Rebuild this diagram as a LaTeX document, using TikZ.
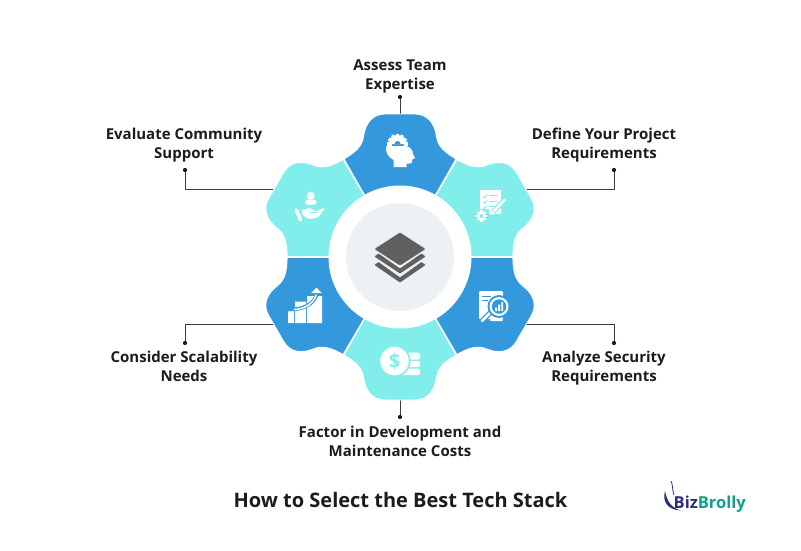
\documentclass[tikz,border=0pt]{standalone}
\usepackage{fontspec}
\setmainfont{Open Sans}
\usepackage{xcolor}
\usetikzlibrary{positioning}
\definecolor{segblue}{HTML}{3498DD}
\definecolor{segcyan}{HTML}{82EEEC}
\definecolor{hubgrey}{HTML}{ECF1F3}
\definecolor{stackgrey}{HTML}{606060}
\definecolor{inkdark}{HTML}{1C1C1C}
\definecolor{logonavy}{HTML}{2A2F7A}
\definecolor{logoteal}{HTML}{12A08C}

\begin{document}
\begin{tikzpicture}[
x=1pt, y=-1pt,
lbl/.style = {font=\bfseries\fontsize{15}{19}\selectfont, align=center, text=inkdark, inner sep=0pt},
leaddot/.style = {circle, fill=inkdark, inner sep=0pt, minimum size=4.2pt},
leader/.style = {draw=inkdark!85, line width=0.8pt},
seg/.style = {line width=0.9pt, draw=white},
ink/.style = {fill=white, draw=none}]
\useasboundingbox (0,0) rectangle (801,550);
\fill[white] (0,0) rectangle (801,550);

\node[leaddot] (dot1) at (400,97) {};
\node[leaddot] (dot2) at (614,170) {};
\node[leaddot] (dot3) at (614,343) {};
\node[leaddot] (dot4) at (400,417) {};
\node[leaddot] (dot5) at (185,343) {};
\node[leaddot] (dot6) at (185,170) {};
\coordinate (lobe1) at (400,116);
\coordinate (lobe2) at (524,189);
\coordinate (lobe3) at (524,324);
\coordinate (lobe4) at (400,398);
\coordinate (lobe5) at (276,324);
\coordinate (lobe6) at (276,189);
\draw[leader] (dot1) -- (lobe1);
\draw[leader] (dot2) |- (lobe2);
\draw[leader] (dot3) |- (lobe3);
\draw[leader] (dot4) -- (lobe4);
\draw[leader] (dot5) |- (lobe5);
\draw[leader] (dot6) |- (lobe6);

\foreach \ang/\col in {0/segblue,-60/segcyan,-120/segblue,-180/segcyan,-240/segblue,-300/segcyan}
  \draw[seg, fill=\col, shift={(400,257)}, rotate=\ang] (0,0) -- (-56,-98)
    .. controls (-46,-104) and (-38,-110) .. (-36.5,-120)
    .. controls (-35,-133) and (-28,-143) .. (-15,-143) -- (15,-143)
    .. controls (28,-143) and (35,-133) .. (36.5,-120)
    .. controls (38,-110) and (46,-104) .. (56,-98) -- cycle;

\node[circle, fill=white, minimum size=143pt, inner sep=0pt] (ring) at (400,257) {};
\node[circle, fill=hubgrey, minimum size=108pt, inner sep=0pt] (hub) at (400,257) {};

\fill[stackgrey, rounded corners=1pt] (400,232.5) -- (425.5,249) -- (400,265.5) -- (374.5,249) -- cycle;
\fill[stackgrey, rounded corners=0.8pt] (378.5,253.5) -- (400,268.5) -- (421.5,253.5) -- (425.5,256.5) -- (400,273.5) -- (374.5,256.5) -- cycle;
\fill[stackgrey, rounded corners=0.8pt] (378.5,262) -- (400,277.5) -- (421.5,262) -- (425.5,265) -- (400,282.5) -- (374.5,265) -- cycle;

% head
\foreach \t in {-90,-60,...,90}
  \fill[ink, shift={(397.5,144)}, rotate=\t] (-1.6,-10.2) rectangle (1.6,-6);
\fill[ink] (388.5,144) arc[start angle=180, end angle=360, radius=9] -- cycle;
\fill[segblue] (394.5,144) arc[start angle=180, end angle=360, radius=3] -- cycle;
\fill[ink] (386,146) -- (405.5,146)
  .. controls (410,146.5) and (413,150) .. (413,154) -- (415,158) -- (412,159.5)
  -- (412,162.5) .. controls (411,164) and (408,163.5) .. (406.5,163.5) -- (406.5,167) -- (393.5,167) -- (393.5,160)
  .. controls (388,157.5) and (385.5,152) .. (386,146) -- cycle;

% checklist
\fill[ink] (479.5,190) rectangle (500.5,214);
\fill[segcyan] (483,195.5) -- (484.5,197) -- (487,194) -- (487,195.5) -- (484.5,198.5) -- (483,197) -- cycle;
\fill[segcyan] (483,201) -- (484.5,202.5) -- (487,199.5) -- (487,201) -- (484.5,204) -- (483,202.5) -- cycle;
\fill[segcyan] (483,206.5) -- (484.5,208) -- (487,205) -- (487,206.5) -- (484.5,209.5) -- (483,208) -- cycle;
\draw[segcyan, line width=1pt] (489,195.5) -- (497,195.5) (489,201) -- (497,201) (489,206.5) -- (495,206.5);
\draw[segcyan, line width=5pt] (506,198.5) -- (493,212);
\draw[white, line width=2.6pt] (505,199.5) -- (494,211);
\fill[ink] (490.5,215) -- (492,210) -- (495.5,213.5) -- cycle;
\fill[segcyan] (474,209) rectangle (489,224);
\foreach \t in {0,45,...,315}
  \fill[ink, shift={(481.5,216)}, rotate=\t] (-1.2,-5.6) rectangle (1.2,-3);
\draw[white, line width=1.5pt] (481.5,216) circle[radius=2.9];

% report
\fill[ink, rounded corners=1pt] (479,291) rectangle (503,319);
\draw[segblue, line width=1.3pt] (482,296.5) -- (491,296.5) (482,300.5) -- (488,300.5);
\draw[segblue, line width=5pt] (492,311) -- (481,322);
\draw[white, line width=2.6pt, line cap=round] (491,312) -- (482,321);
\fill[segblue] (499,306.5) circle[radius=11.5];
\fill[ink] (499,306.5) circle[radius=9.5];
\fill[segblue] (499,306.5) circle[radius=7.2];
\fill[ink] (495,307.5) rectangle (496.8,311) (498.2,304.5) rectangle (500,311) (501.4,302) rectangle (503.2,311);
\fill[ink, rounded corners=0.8pt] (490,319) rectangle (503,321);

% dollar
\fill[ink, rounded corners=1.5pt] (402,352.5) rectangle (420,359.5) (402,361) rectangle (420,367) (402,368.5) rectangle (420,375);
\fill[segcyan] (394.5,361) circle[radius=16];
\node[circle, fill=white, minimum size=28.5pt, inner sep=0pt] (coin) at (394.5,361) {};
\node[font=\bfseries\fontsize{20}{20}\selectfont, text=segcyan, inner sep=0pt] (dollar) at (coin) {\$};

% chart
\fill[ink] (288,311) rectangle (294,323) (295.2,301.5) rectangle (306,323) (307,296) rectangle (322,323);
\draw[segblue, line width=3.6pt] (288,309.5) .. controls (303,310) and (315,304) .. (317,293);
\draw[white, line width=1.5pt] (294,309.5) .. controls (305,309) and (315,303) .. (316.5,293);
\fill[segblue] (309,294.5) -- (316.5,286) -- (323,294.5) -- cycle;
\fill[ink] (311,293) -- (316.5,287.5) -- (321.5,293) -- cycle;

% hand
\fill[ink] (310.7,195.7) circle[radius=3.9];
\fill[ink, rounded corners=1.8pt] (305,199.5) rectangle (316.5,204.5);
\draw[white, line width=3.6pt, line cap=round] (296.5,210) -- (300.5,220);
\fill[ink, rounded corners=1pt] (301.5,210) -- (310,208) -- (315.5,211.5) -- (325,207.5) -- (318.5,217) -- (310,219.3) -- (303,215.5) -- cycle;
\draw[segcyan, line width=0.7pt] (310,212.8) -- (317,212.8);

\node[lbl, above=1.5pt of dot1] (lab1) {Assess Team\\Expertise};
\node[lbl, above=5.5pt of dot2, xshift=-10pt] (lab2) {Define Your Project\\Requirements};
\node[lbl, below=6pt of dot3, xshift=-10pt] (lab3) {Analyze Security\\Requirements};
\node[lbl, below=7pt of dot4] (lab4) {Factor in Development and\\Maintenance Costs};
\node[lbl, below=6pt of dot5, xshift=-1pt] (lab5) {Consider Scalability\\Needs};
\node[lbl, above=5.5pt of dot6, xshift=-1pt] (lab6) {Evaluate Community\\Support};

\node[font=\bfseries\fontsize{20}{24}\selectfont, text=inkdark, inner sep=0pt] (title) at (400.5,500) {How to Select the Best Tech Stack};

\node[font=\fontsize{16.5}{20}\selectfont\bfseries, text=logoteal, inner sep=0pt, anchor=base west] (logo) at (673.5,508) {\textcolor{logonavy}{Biz}Brolly};
\fill[logonavy] (665,491) .. controls (662,502) and (668,510) .. (681,510.5) .. controls (671,508) and (667,501) .. (665,491) -- cycle;
\draw[logonavy, line width=0.8pt] (674,495) .. controls (672,489) and (673,485) .. (671,481);
\end{tikzpicture}
\end{document}
